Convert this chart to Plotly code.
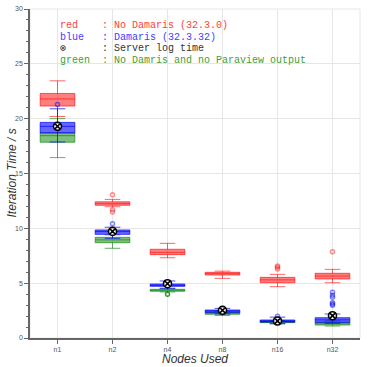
import plotly.graph_objects as go

categories = ["n1", "n2", "n4", "n8", "n16", "n32"]

# No Damaris (red)
red_q1 = [21.15, 12.10, 7.60, 5.74, 5.04, 5.38]
red_med = [21.80, 12.25, 7.81, 5.87, 5.30, 5.65]
red_q3 = [22.30, 12.42, 8.09, 5.99, 5.53, 5.90]
red_lo = [20.20, 11.97, 7.32, 5.44, 4.68, 5.04]
red_hi = [23.45, 12.64, 8.63, 6.10, 5.80, 6.26]
red_out_x = ["n2", "n2", "n2", "n16", "n16", "n16", "n32"]
red_out_y = [13.06, 11.70, 11.50, 6.56, 6.45, 6.30, 7.87]

# Damaris (blue)
blue_q1 = [18.70, 9.45, 4.71, 2.34, 1.46, 1.43]
blue_med = [19.30, 9.70, 4.80, 2.48, 1.55, 1.65]
blue_q3 = [19.66, 9.85, 4.92, 2.55, 1.64, 1.85]
blue_lo = [17.87, 9.09, 4.50, 2.20, 1.30, 1.34]
blue_hi = [20.90, 10.10, 5.20, 2.70, 1.90, 2.19]
blue_out_x = ["n1", "n2", "n16", "n32", "n32", "n32", "n32", "n32", "n32"]
blue_out_y = [21.30, 10.42, 1.98, 4.17, 3.90, 3.71, 3.22, 3.10, 2.98]

# No Damaris, no Paraview output (green)
green_q1 = [17.85, 8.69, 4.26, 2.16, 1.40, 1.18]
green_med = [18.45, 8.95, 4.35, 2.30, 1.45, 1.30]
green_q3 = [18.70, 9.18, 4.44, 2.34, 1.50, 1.43]
green_lo = [16.45, 8.18, 4.20, 2.05, 1.30, 1.09]
green_hi = [20.00, 9.40, 4.55, 2.45, 1.60, 1.55]
green_out_x = ["n4"]
green_out_y = [3.98]

# Server log time
server_y = [19.30, 9.72, 4.95, 2.52, 1.55, 2.03]

legend_lines = [
    ("red    : No Damaris (32.3.0)", "#ff4040"),
    ("blue   : Damaris (32.3.32)", "#4040ff"),
    ("\u2297      : Server log time", "#333333"),
    ("green  : No Damris and no Paraview output", "#40a040"),
]

fig = go.Figure()

def add_box(q1, med, q3, lo, hi, line_c, fill_c):
    fig.add_trace(go.Box(
        x=categories, q1=q1, median=med, q3=q3, lowerfence=lo, upperfence=hi,
        line=dict(color=line_c, width=1), fillcolor=fill_c,
        whiskerwidth=0.45, boxpoints=False, showlegend=False, hoverinfo="skip"))

def add_out(xs, ys, c):
    fig.add_trace(go.Scatter(
        x=xs, y=ys, mode="markers", showlegend=False,
        marker=dict(symbol="circle-open", size=4, color=c, line=dict(width=1.5))))

add_box(red_q1, red_med, red_q3, red_lo, red_hi, "rgba(255,0,0,0.6)", "rgba(255,0,0,0.5)")
add_box(green_q1, green_med, green_q3, green_lo, green_hi, "rgba(0,128,0,0.6)", "rgba(0,128,0,0.5)")
add_box(blue_q1, blue_med, blue_q3, blue_lo, blue_hi, "rgba(0,0,255,0.7)", "rgba(0,0,255,0.6)")
add_out(red_out_x, red_out_y, "rgba(255,0,0,0.45)")
add_out(green_out_x, green_out_y, "rgba(0,128,0,0.8)")
add_out(blue_out_x, blue_out_y, "rgba(0,0,255,0.5)")

fig.add_trace(go.Scatter(
    x=categories, y=server_y, mode="markers", showlegend=False,
    marker=dict(symbol="circle-x", size=8, color="white",
                line=dict(color="black", width=1.6))))

W, H = 369, 367
L, R, T, B = 30, 9, 9, 29
pw, ph = W - L - R, H - T - B

def px_x(x):
    return (x - L) / pw

def px_y(y):
    return (H - B - y) / ph

for i, (txt, col) in enumerate(legend_lines):
    fig.add_annotation(
        x=px_x(58), y=px_y(26 + i * 11.4), xref="paper", yref="paper", showarrow=False,
        text=txt.replace(" ", "&nbsp;"),
        font=dict(family="Liberation Mono, Courier New, monospace", size=10, color=col),
        xanchor="left", yanchor="middle")

fig.add_annotation(x=px_x(11), y=0.5, xref="paper", yref="paper", showarrow=False,
                   text="<i>Iteration Time / s</i>", textangle=-90,
                   font=dict(family="Liberation Sans, Arial", size=12, color="#333"),
                   xanchor="center", yanchor="middle")
fig.add_annotation(x=0.5, y=px_y(359), xref="paper", yref="paper", showarrow=False,
                   text="<i>Nodes Used</i>",
                   font=dict(family="Liberation Sans, Arial", size=12, color="#333"),
                   xanchor="center", yanchor="middle")

fig.add_shape(type="rect", xref="paper", yref="paper", x0=0, x1=1, y0=0, y1=1,
              line=dict(color="#e6e6e6", width=1), layer="below")

fig.update_layout(
    width=W, height=H, margin=dict(l=L, r=R, t=T, b=B),
    paper_bgcolor="white", plot_bgcolor="white",
    boxmode="overlay", boxgap=0.1,
    font=dict(family="Liberation Sans, Arial", size=7, color="#555"),
)
fig.update_xaxes(
    type="category", categoryorder="array", categoryarray=categories,
    range=[-0.5, 5.5], showgrid=True, gridcolor="#e6e6e6", gridwidth=1,
    showline=True, linecolor="#666", linewidth=1.5, ticks="outside", ticklen=4,
    tickcolor="#666", tickfont=dict(size=7, color="#555"), zeroline=False, automargin=False)
fig.update_yaxes(
    range=[0, 30], dtick=5, showgrid=True, gridcolor="#e6e6e6", gridwidth=1,
    showline=True, linecolor="#666", linewidth=1.5, ticks="outside", ticklen=4,
    tickcolor="#666", tickfont=dict(size=7, color="#555"), zeroline=False,
    minor=dict(dtick=1, ticks="outside", ticklen=2, tickcolor="#666", showgrid=False),
    automargin=False)

fig.write_html("out.html", config={"displayModeBar": False},
               post_script="document.body.style.margin='0';document.body.style.padding='0';")
